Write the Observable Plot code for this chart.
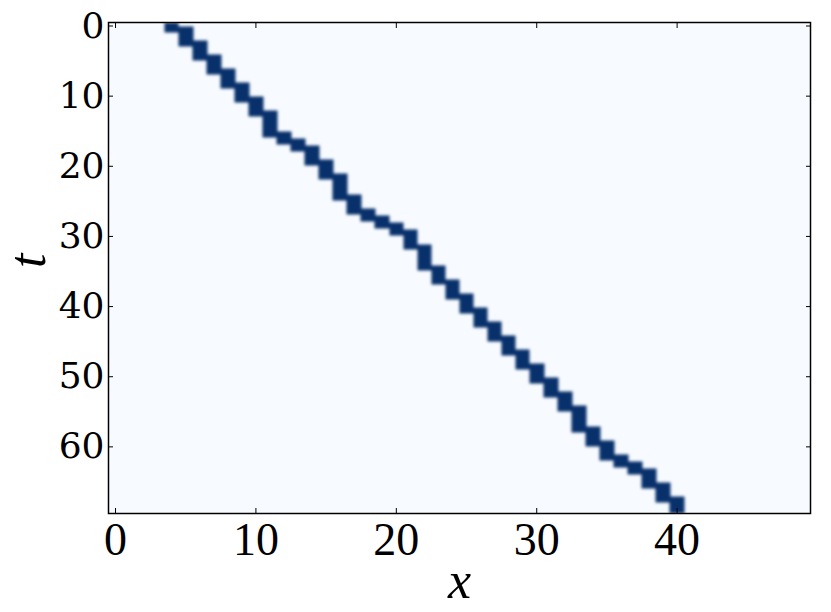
<!DOCTYPE html>
<html><head><meta charset="utf-8">
<script src="https://cdn.jsdelivr.net/npm/d3@7"></script>
<script src="https://cdn.jsdelivr.net/npm/@observablehq/plot@0.6"></script>
<style>
body{margin:0;background:#fff}
#chart svg{display:block}
g[aria-label="x-axis tick label"] text{font-family:"Liberation Serif",serif;font-size:46px}
g[aria-label="y-axis tick label"] text{font-family:"DejaVu Serif",serif;font-size:36px}
.axlab{font-family:"Liberation Serif",serif;font-style:italic;font-size:52px}
</style>
</head><body><div id="chart"></div>
<script>
const nX = 50;
const nT = 70;
// column of the dark cell at each time step t = 0..69
const pathX = [4,5,5,6,6,7,7,8,8,9, 9,10,10,11,11,11,12,13,14,14,
  15,15,16,16,16,17,17,18,19,20, 21,21,22,22,22,23,23,24,24,25,
  25,26,26,27,27,28,28,29,29,30, 30,31,31,32,32,33,33,33,34,34,
  35,35,36,37,38,38,39,39,40,40];
const xTicks = [0,10,20,30,40];
const tTicks = [0,10,20,30,40,50,60];
const xLabel = "x";
const tLabel = "t";

// value of the image at a point: 1 near the occupied cell of a row, smoothed over neighbouring rows
function value(x, t) {
  const r0 = Math.round(t);
  for (let r = r0 - 1; r <= r0 + 1; r++) {
    if (r < 0 || r >= nT) continue;
    if (Math.abs(t - r) <= 0.92 && Math.abs(x - pathX[r]) <= 0.52) return 1;
  }
  return 0;
}

const W = 831, H = 612, mL = 108, mR = 21, mT = 22, mB = 99;
const chart = Plot.plot({
  width: W, height: H,
  marginLeft: mL, marginRight: mR, marginTop: mT, marginBottom: mB,
  x: {domain: [-0.5, nX - 0.5]},
  y: {domain: [-0.5, nT - 0.5], reverse: true},
  color: {type: "linear", scheme: "blues", domain: [0, 1]},
  style: {background: "white", overflow: "visible"},
  marks: [
    Plot.raster({fill: value, x1: -0.5, x2: nX - 0.5, y1: -0.5, y2: nT - 0.5,
      width: W - mL - mR, height: H - mT - mB, clip: true}),
    Plot.frame({stroke: "black", strokeWidth: 1.5}),
    Plot.axisX({ticks: xTicks, anchor: "bottom", tickSize: -5, tickPadding: 14, label: null}),
    Plot.axisX({ticks: xTicks, anchor: "top", tickSize: -5, tickFormat: () => "", label: null}),
    Plot.axisY({ticks: tTicks, anchor: "left", tickSize: -5, tickPadding: 9, label: null}),
    Plot.axisY({ticks: tTicks, anchor: "right", tickSize: -5, tickFormat: () => "", label: null}),
    Plot.text([tLabel], {frameAnchor: "left", dx: -80, rotate: -90, className: "axlab", fill: "black"}),
    Plot.text([xLabel], {frameAnchor: "bottom", dy: 84, className: "axlab", fill: "black"})
  ]
});
document.getElementById("chart").appendChild(chart);
const img = chart.querySelector("image");
if (img) img.style.filter = "blur(1.6px)";
</script>
</body></html>
